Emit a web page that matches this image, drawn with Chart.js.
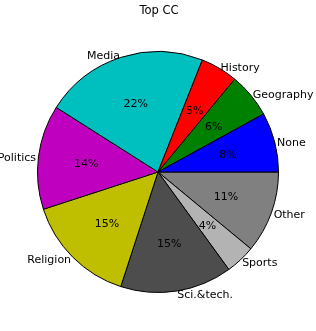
<!DOCTYPE html>
<html>
<head>
<meta charset="utf-8">
<script src="https://cdn.jsdelivr.net/npm/chart.js@4"></script>
<style>
  html, body { margin: 0; padding: 0; background: #fff; }
  #wrap { width: 316px; height: 331px; }
</style>
</head>
<body>
<div id="wrap"><canvas id="myChart" width="316" height="331"></canvas></div>
<script>
// matplotlib order: counterclockwise from east
const categories = ["None", "Geography", "History", "Media", "Politics", "Religion", "Sci.&tech.", "Sports", "Other"];
const shares = [8, 6, 5, 22, 14, 15, 15, 4, 11];
const colors = ["#0000ff", "#008000", "#ff0000", "#00bfbf", "#bf00bf", "#bfbf00", "#4d4d4d", "#b3b3b3", "#808080"];
const title = "Top CC";

// chart.js goes clockwise, so flip the order
const labels = categories.slice().reverse();
const data = shares.slice().reverse();
const bg = colors.slice().reverse();

const font = "DejaVu Sans";

const pieText = {
  id: "pieText",
  afterDatasetsDraw(chart) {
    const ctx = chart.ctx;
    const total = data.reduce((a, b) => a + b, 0);
    const arcs = chart.getDatasetMeta(0).data;
    ctx.save();
    ctx.fillStyle = "#000";
    ctx.textBaseline = "middle";
    ctx.font = "11px '" + font + "'";
    arcs.forEach((arc, i) => {
      const mid = (arc.startAngle + arc.endAngle) / 2;
      const r = arc.outerRadius;
      const c = Math.cos(mid), s = Math.sin(mid);
      // text sits about a pixel lower in the original
      ctx.textAlign = c > 0 ? "left" : "right";
      ctx.fillText(labels[i], arc.x + 1.02 * r * c, arc.y + 1.02 * r * s + 1.5);
      ctx.textAlign = "center";
      ctx.fillText(Math.round(data[i] / total * 100) + "%", arc.x + 0.6 * r * c, arc.y + 0.6 * r * s + 1);
    });
    ctx.font = "11.5px '" + font + "'";
    ctx.textAlign = "center";
    ctx.fillText(title, 159, 11);
    ctx.restore();
  }
};

new Chart(document.getElementById("myChart"), {
  type: "pie",
  data: {
    labels,
    datasets: [{
      data,
      backgroundColor: bg,
      borderColor: "#000",
      borderWidth: 1
    }]
  },
  options: {
    responsive: false,
    animation: false,
    rotation: 90,
    events: [],
    layout: { padding: { left: 37, right: 37, top: 51, bottom: 38 } },
    plugins: {
      legend: { display: false },
      title: { display: false },
      tooltip: { enabled: false }
    }
  },
  plugins: [pieText]
});
</script>
</body>
</html>
